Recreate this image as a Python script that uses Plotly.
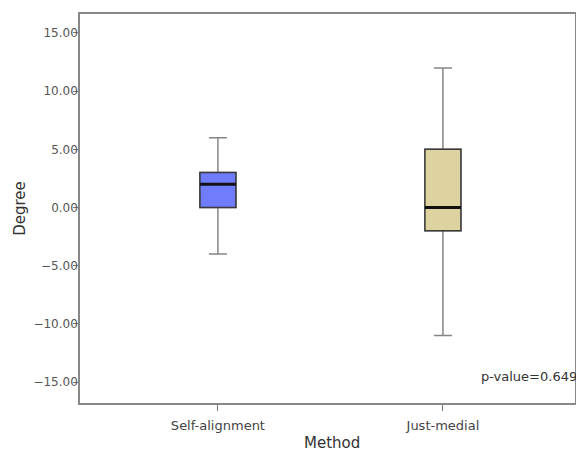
import plotly.graph_objects as go

categories = ["Self-alignment", "Just-medial"]
lower_whisker = [-4, -11]
q1 = [0, -2]
median = [2, 0]
q3 = [3, 5]
upper_whisker = [6, 12]
fill_colors = ["#6f7dfc", "#dcd3a0"]
y_ticks = [15, 10, 5, 0, -5, -10, -15]
p_value_text = "p-value=0.649"
x_title = "Method"
y_title = "Degree"

positions = list(range(len(categories)))
box_w = 0.16

fig = go.Figure()
for i, cat in enumerate(categories):
    # whiskers (gray)
    fig.add_trace(go.Box(
        x=[positions[i]], q1=[q1[i]], median=[median[i]], q3=[q3[i]],
        lowerfence=[lower_whisker[i]], upperfence=[upper_whisker[i]],
        width=box_w, whiskerwidth=0.5, line=dict(color="#858585", width=1.5),
        fillcolor="rgba(0,0,0,0)", boxpoints=False, showlegend=False, hoverinfo="skip"))
    # box body
    fig.add_trace(go.Box(
        x=[positions[i]], q1=[q1[i]], median=[median[i]], q3=[q3[i]],
        lowerfence=[q1[i]], upperfence=[q3[i]],
        width=box_w, whiskerwidth=0, line=dict(color="#3a3a3a", width=1.5),
        fillcolor=fill_colors[i], boxpoints=False, showlegend=False, hoverinfo="skip"))
    # thick median
    fig.add_trace(go.Scatter(
        x=[positions[i] - box_w / 2, positions[i] + box_w / 2], y=[median[i], median[i]],
        mode="lines", line=dict(color="#111111", width=3), showlegend=False, hoverinfo="skip"))

fig.add_annotation(x=1, y=0, xref="paper", yref="paper", xanchor="right", yanchor="bottom",
                   text=p_value_text, showarrow=False, xshift=4, yshift=17,
                   font=dict(size=13, color="#333333"))
fig.add_annotation(x=0.51, y=0, xref="paper", yref="paper", xanchor="center", yanchor="top",
                   text=x_title, showarrow=False, yshift=-29,
                   font=dict(size=15, color="#333333"))

fig.update_layout(
    width=568, height=443,
    margin=dict(l=72, r=1, t=6, b=48),
    paper_bgcolor="white", plot_bgcolor="white",
    font=dict(family="DejaVu Sans", size=12, color="#444444"),
    xaxis=dict(range=[-0.613, 1.587], tickvals=positions, ticktext=categories,
               ticks="outside", ticklen=6, tickcolor="#777777", showgrid=False, zeroline=False,
               showline=True, linecolor="#888888", linewidth=1.5, mirror=True, automargin=False,
               ticklabelstandoff=4,
               tickfont=dict(size=13, color="#444444")),
    yaxis=dict(range=[-16.8, 16.63], tickvals=y_ticks, tickformat=".2f",
               ticks="outside", ticklen=5, tickcolor="#777777", showgrid=False, zeroline=False,
               showline=True, linecolor="#888888", linewidth=1.5, mirror=True, automargin=False,
               ticklabelstandoff=-7,
               title=dict(text=y_title, font=dict(size=15, color="#333333"), standoff=4),
               tickfont=dict(size=12, color="#555555")),
)

fig.write_html("out.html")
